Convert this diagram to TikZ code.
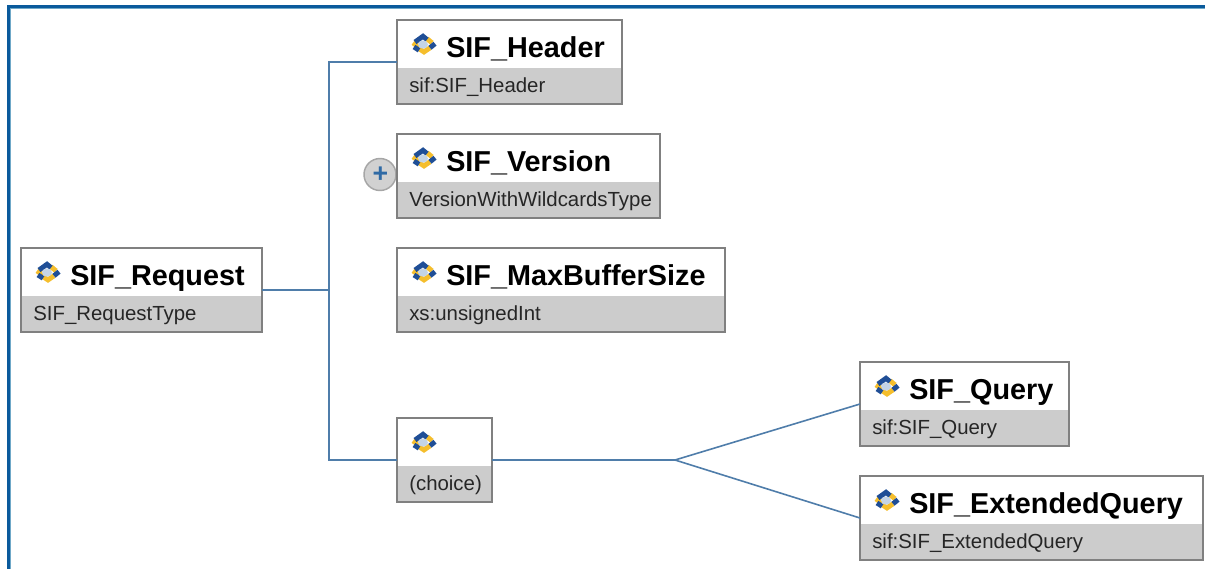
\documentclass[tikz,border=0pt]{standalone}
\usepackage{fontspec}
\setmainfont{Liberation Sans}
\definecolor{frameblue}{HTML}{0A5A9C}
\definecolor{framelight}{HTML}{6FA8C8}
\definecolor{linkblue}{HTML}{4F7DAA}
\definecolor{boxedge}{HTML}{808080}
\definecolor{boxgrey}{HTML}{CCCCCC}
\definecolor{iconblue}{HTML}{1F4E96}
\definecolor{iconyellow}{HTML}{F5BE2C}
\definecolor{iconcore}{HTML}{C4D4E6}
\definecolor{plusblue}{HTML}{2F6AA5}
\tikzset{
  x=0.75pt, y=-0.75pt,
  elembody/.style={draw=boxedge, line width=1pt, fill=white, inner sep=0pt, outer sep=0pt, anchor=north west},
  elemtitle/.style={anchor=base west, inner sep=0pt, font=\fontsize{21.6}{24}\selectfont\bfseries},
  elemsub/.style={anchor=base west, inner sep=0pt, text=black!85, font=\fontsize{15.3}{18}\selectfont},
  link/.style={draw=linkblue, line width=1.2pt},
  iconbar/.style={line width=3.7pt},
}
\newcommand{\elembox}[6]{% name, left, top, width, title, sub
  \node[elembody, minimum width=#4*0.75pt, minimum height=63pt] (#1) at (#2,#3) {};
  \fill[boxgrey] (#2+1,#3+48) rectangle (#2+#4-1,#3+83);
  \draw[boxedge, line width=1pt] (#2,#3) rectangle (#2+#4,#3+84);
  \begin{scope}[shift={(#2+26,#3+24.5)}, yscale=0.82]
    \draw[iconbar, iconyellow] (-10,-2) -- (-4,3);
    \draw[iconbar, iconyellow] (-4,5) -- (1,9) -- (7,4);
    \draw[iconbar, iconyellow] (4,-7) -- (9,-2);
    \draw[iconbar, iconblue] (-8,-3) -- (0,-10) -- (4,-6);
    \draw[iconbar, iconblue] (-9,3) -- (-4,7);
    \draw[iconbar, iconblue] (12,-1) -- (7,4);
    \fill[iconcore] (0,0) circle (5);
  \end{scope}
  \node[elemtitle] (#1-title) at (#2+49,#3+37.5) {#5};
  \node[elemsub] (#1-sub) at (#2+12,#3+72) {#6};
}
\begin{document}
\begin{tikzpicture}
\useasboundingbox (0,0) rectangle (1205,569);
% frame
\fill[frameblue] (6.8,5) rectangle (1205,8.2);
\fill[frameblue] (6.8,5) rectangle (10.2,569);
\fill[framelight] (10.2,8.2) rectangle (1205,9);
\fill[framelight] (10.2,8.2) rectangle (11,569);
% junctions
\coordinate (spineTop) at (329,62);
\coordinate (spineMid) at (329,290);
\coordinate (spineBot) at (329,460);
\coordinate (fork) at (675,460);
% expand button
\node[circle, draw=black!35, line width=1.1pt, fill=black!18, minimum size=24pt, inner sep=0pt, outer sep=0pt] (expand) at (380,174.5) {};
\node[inner sep=0pt, text=plusblue, font=\fontsize{20}{20}\selectfont\bfseries] (expandsign) at (380.5,175) {+};
\elembox{request}{21}{248}{241}{SIF\_Request}{SIF\_RequestType}
\elembox{header}{397}{20}{225}{SIF\_Header}{sif:SIF\_Header}
\elembox{version}{397}{134}{263}{SIF\_Version}{VersionWithWildcardsType}
\elembox{maxbuf}{397}{248}{328}{SIF\_MaxBufferSize}{xs:unsignedInt}
\elembox{choice}{397}{418}{95}{}{(choice)}
\elembox{query}{860}{362}{209}{SIF\_Query}{sif:SIF\_Query}
\elembox{extquery}{860}{476}{343}{SIF\_ExtendedQuery}{sif:SIF\_ExtendedQuery}
\draw[link] (request.east) -- (spineMid);
\draw[link] (header.west) -- (spineTop) -- (spineBot) -- (choice.west);
\draw[link] (choice.east) -- (fork) -- (query.west);
\draw[link] (fork) -- (extquery.west);
\end{tikzpicture}
\end{document}
